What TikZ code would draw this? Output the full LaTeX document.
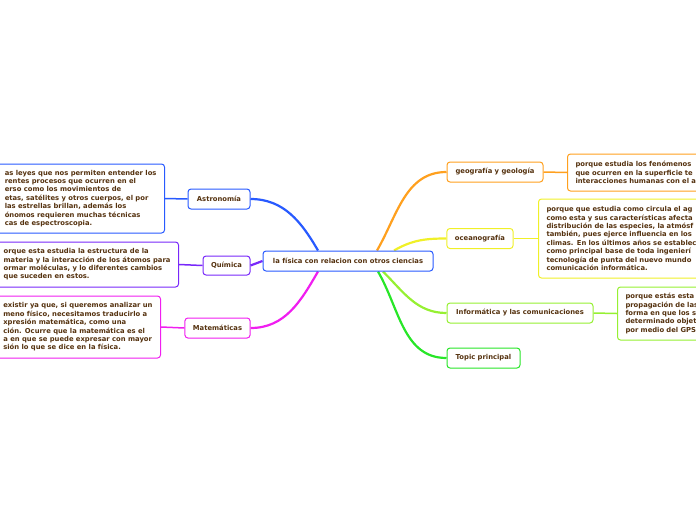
\documentclass[tikz,border=0pt]{standalone}
\usepackage{fontspec}
\newfontfamily\mapfont{DejaVu Sans}
\usepackage{tikz}
\usetikzlibrary{calc,backgrounds}
\definecolor{txt}{RGB}{85,50,15}
\definecolor{blueC}{RGB}{40,90,255}
\definecolor{purpleC}{RGB}{120,40,250}
\definecolor{magC}{RGB}{240,30,240}
\definecolor{orangeC}{RGB}{255,160,30}
\definecolor{yellowC}{RGB}{240,240,40}
\definecolor{limeC}{RGB}{150,240,50}
\definecolor{greenC}{RGB}{40,230,40}

\begin{document}
\begin{tikzpicture}[x=1pt,y=-1pt,font=\mapfont\bfseries\fontsize{6.8}{8.4}\selectfont,text=txt]
\tikzset{topic/.style={draw=#1,rounded corners=3pt,fill=white,line width=1pt,inner xsep=8pt,minimum height=20pt},
desc/.style={topic=#1,align=left,inner ysep=4pt},
link/.style={draw=#1,line width=2.2pt},
lead/.style={draw=#1,line width=1.5pt}}
\useasboundingbox (0,0) rectangle (696,520);
\clip (0,0) rectangle (696,520);
% central topic
\node[topic=blueC,minimum width=170pt] (cen) at (348,261) {la física con relacion con otros ciencias};
% left branches
\node[topic=blueC,minimum width=62pt] (astro) at (219,199) {Astronomía};
\node[topic=purpleC,minimum width=47pt,minimum height=19pt] (quim) at (226.5,265.5) {Química};
\node[topic=magC,minimum width=65pt] (mat) at (217.5,328) {Matemáticas};
\node[desc=blueC,minimum height=69pt,anchor=east] (astroD) at (165,198.5)
 {as leyes que nos permiten entender los\\rentes procesos que ocurren en el\\erso como los movimientos de\\etas, satélites y otros cuerpos, el por\\las estrellas brillan, además los\\ónomos requieren muchas técnicas\\cas de espectroscopia.};
\node[desc=purpleC,minimum height=45pt,anchor=east] (quimD) at (179,264.5)
 {orque esta estudia la estructura de la\\materia y la interacción de los átomos para\\ormar moléculas, y lo diferentes cambios\\que suceden en estos.};
\node[desc=magC,minimum height=62pt,anchor=east] (matD) at (161,327)
 {existir ya que, si queremos analizar un\\meno físico, necesitamos traducirlo a\\xpresión matemática, como una\\ción. Ocurre que la matemática es el\\a en que se puede expresar con mayor\\sión lo que se dice en la física.};
% right branches
\node[topic=orangeC,minimum width=96pt] (geo) at (495,172) {geografía y geología};
\node[topic=yellowC,minimum width=66pt] (ocean) at (480,238.5) {oceanografía};
\node[topic=limeC,minimum width=146pt] (inf) at (520,313) {Informática y las comunicaciones};
\node[topic=greenC,minimum width=73pt] (tp) at (483.5,358) {Topic principal};
\node[desc=orangeC,minimum height=37pt,text width=160pt,anchor=west] (geoD) at (567,172.5)
 {porque estudia los fenómenos\\que ocurren en la superficie te\\interacciones humanas con el a};
\node[desc=yellowC,minimum height=79pt,text width=180pt,anchor=west] (oceanD) at (538,238.5)
 {porque que estudia como circula el ag\\como esta y sus características afecta\\distribución de las especies, la atmósf\\también, pues ejerce influencia en los\\climas. En los últimos años se establec\\como principal base de toda ingenierí\\tecnología de punta del nuevo mundo\\comunicación informática.};
\node[desc=limeC,minimum height=53pt,text width=120pt,anchor=west] (infD) at (617,313.5)
 {porque estás esta\\propagación de las\\forma en que los s\\determinado objet\\por medio del GPS};
% connectors
\begin{scope}[on background layer]
\draw[link=blueC] (astro.east) to[out=0,in=120] ($(cen.north)+(-30,0)$);
\draw[link=purpleC] (quim.east) -- (cen.west);
\draw[link=magC] (mat.east) to[out=0,in=-120] ($(cen.south)+(-30,0)$);
\draw[link=orangeC] ($(cen.north)+(29,0)$) to[out=60,in=180] (geo.west);
\draw[link=yellowC] ($(cen.north)+(46,0)$) to[out=30,in=180] (ocean.west);
\draw[link=limeC] ($(cen.south)+(35,0)$) to[out=-45,in=180] (inf.west);
\draw[link=greenC] ($(cen.south)+(30,0)$) to[out=-60,in=180] (tp.west);
\draw[lead=blueC] (astro.west) -- (astroD.east);
\draw[lead=purpleC] (quim.west) -- (quimD.east);
\draw[lead=magC] (mat.west) -- (matD.east);
\draw[lead=orangeC] (geo.east) -- (geoD.west);
\draw[lead=yellowC] (ocean.east) -- (oceanD.west);
\draw[lead=limeC] (inf.east) -- (infD.west);
\end{scope}
\end{tikzpicture}
\end{document}
